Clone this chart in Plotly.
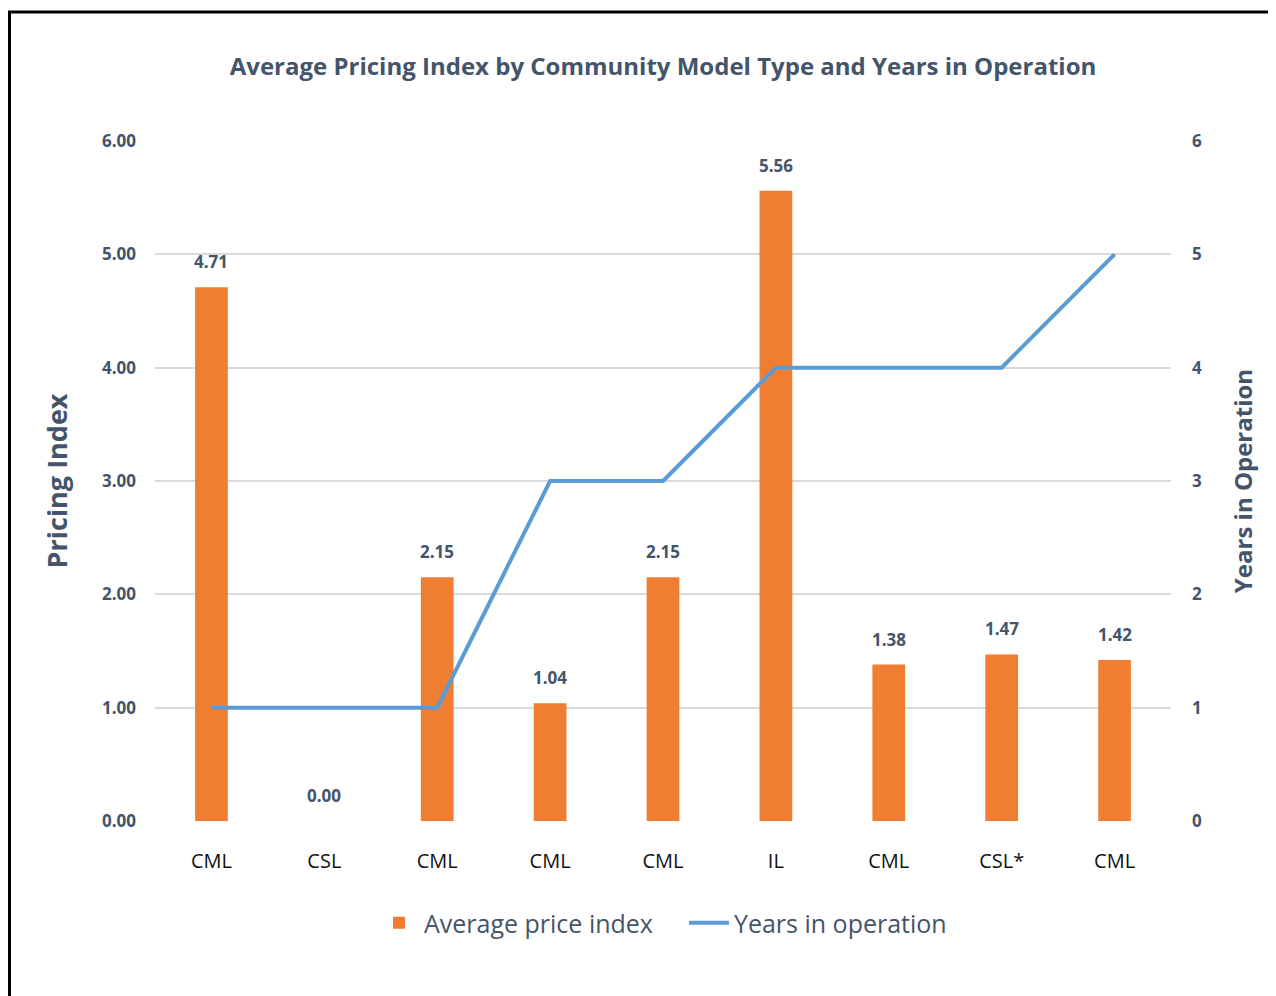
import plotly.graph_objects as go

categories = ["CML", "CSL", "CML", "CML", "CML", "IL", "CML", "CSL*", "CML"]
price_index = [4.71, 0.00, 2.15, 1.04, 2.15, 5.56, 1.38, 1.47, 1.42]
years_in_operation = [1, 1, 1, 3, 3, 4, 4, 4, 5]
left_ticks = [0, 1, 2, 3, 4, 5, 6]
right_ticks = [0, 1, 2, 3, 4, 5, 6]

x_pos = list(range(len(categories)))
DARK = "#44546A"
FONT = "'Open Sans', 'Noto Sans', sans-serif"

fig = go.Figure()
fig.add_trace(go.Bar(
    x=x_pos, y=price_index, name="Average price index\u00a0\u00a0\u00a0\u00a0",
    marker=dict(color="#EF7E32", line=dict(width=0)),
    width=0.29,
))
fig.add_trace(go.Scatter(
    x=x_pos, y=years_in_operation, name="Years in operation",
    mode="lines", line=dict(color="#5B9BD5", width=4),
    yaxis="y2",
))

for xi, v in zip(x_pos, price_index):
    fig.add_annotation(x=xi, y=v, text=f"<b>{v:.2f}</b>", showarrow=False,
                       yanchor="bottom", yshift=12,
                       font=dict(size=17, color=DARK, family=FONT))

# page has an 8px body margin; figure is sized to fit the window
W, H = 1268, 988
ml, mr, mt, mb = 147, 105, 133, 175
pw, ph = W - ml - mr, H - mt - mb

def px_to_paper_x(px):
    return (px - ml) / pw

def px_to_paper_y(py):
    return (H - mb - py) / ph

# frame border (left and top)
fig.add_shape(type="line", xref="paper", yref="paper",
              x0=px_to_paper_x(1.5), x1=px_to_paper_x(1.5),
              y0=px_to_paper_y(4), y1=px_to_paper_y(1010),
              line=dict(color="black", width=3))
fig.add_shape(type="line", xref="paper", yref="paper",
              x0=px_to_paper_x(0), x1=px_to_paper_x(1290),
              y0=px_to_paper_y(4), y1=px_to_paper_y(4),
              line=dict(color="black", width=3))

fig.update_layout(
    width=W, height=H,
    margin=dict(l=ml, r=mr, t=mt, b=mb),
    paper_bgcolor="white", plot_bgcolor="white",
    title=dict(text="<b>Average Pricing Index by Community Model Type and Years in Operation</b>",
               x=0.5, xanchor="center", xref="paper",
               y=1 - 59 / H, yanchor="middle", yref="container",
               font=dict(size=24, color=DARK, family=FONT)),
    xaxis=dict(tickmode="array", tickvals=x_pos, ticktext=categories,
               range=[-0.5, len(categories) - 0.5],
               showgrid=False, zeroline=False, showline=False, ticks="",
               ticklabelstandoff=26,
               tickfont=dict(size=20, color="#111111", family=FONT)),
    yaxis=dict(range=[0, 6], tickvals=left_ticks,
               ticktext=[f"<b>{t:.2f}</b>" for t in left_ticks],
               showgrid=True, gridcolor="#D9D9D9", gridwidth=1.5,
               zeroline=False, showline=False, ticks="",
               ticklabelstandoff=18,
               tickfont=dict(size=17, color=DARK, family=FONT),
               title=dict(text="<b>Pricing Index</b>", standoff=26,
                          font=dict(size=27, color=DARK, family=FONT))),
    yaxis2=dict(range=[0, 6], tickvals=right_ticks,
                ticktext=[f"<b>{t}</b>" for t in right_ticks],
                overlaying="y", side="right", showgrid=False,
                zeroline=False, showline=False, ticks="",
                ticklabelstandoff=20,
                tickfont=dict(size=17, color=DARK, family=FONT),
                title=dict(text="<b>Years in Operation</b>", standoff=34,
                           font=dict(size=24, color=DARK, family=FONT))),
    legend=dict(orientation="h", x=0.5, xanchor="center",
                y=px_to_paper_y(915), yanchor="middle",
                font=dict(size=25, color=DARK, family=FONT),
                itemwidth=40, traceorder="normal"),
    bargap=0.7,
    showlegend=True,
)

fig.write_html("out.html")
